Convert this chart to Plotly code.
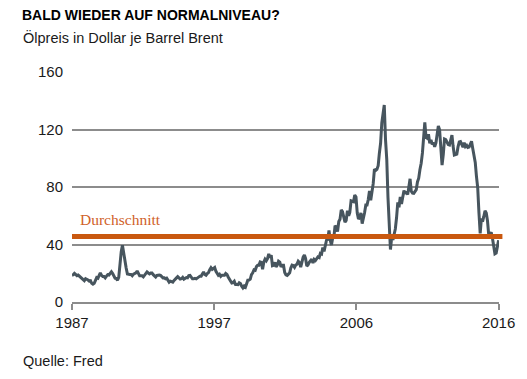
import pandas as pd
import plotly.graph_objects as go

# Brent oil price, monthly (USD per barrel)
start_month = "1987-05"
prices = [
    # 1987 (May-Dec)
    18.6, 18.9, 19.9, 18.9, 18.3, 18.7, 18.0, 17.0,
    # 1988
    16.0, 15.6, 14.8, 16.2, 16.0, 15.3, 14.6, 14.8, 13.0, 12.4, 13.0, 15.1,
    # 1989
    17.0, 16.6, 18.5, 20.3, 18.5, 17.8, 17.8, 16.8, 18.0, 19.0, 18.8, 19.9,
    # 1990
    21.0, 19.8, 18.4, 16.6, 16.4, 15.1, 17.2, 27.2, 35.0, 39.5, 32.8, 27.6,
    # 1991
    23.6, 19.5, 19.1, 19.2, 19.2, 18.3, 19.4, 19.8, 20.3, 21.6, 20.2, 18.2,
    # 1992
    18.2, 18.2, 17.5, 18.8, 19.6, 20.9, 20.2, 19.6, 20.2, 20.2, 19.0, 18.2,
    # 1993
    17.4, 18.5, 18.8, 18.7, 18.5, 17.7, 16.8, 16.9, 16.2, 16.6, 15.3, 13.8,
    # 1994
    14.5, 14.0, 13.8, 15.0, 16.2, 16.8, 17.7, 16.9, 16.0, 16.2, 17.1, 15.9,
    # 1995
    16.6, 17.0, 16.8, 18.3, 18.5, 17.2, 16.1, 16.1, 16.4, 16.1, 16.8, 17.8,
    # 1996
    18.0, 18.0, 19.6, 20.9, 19.1, 18.6, 19.7, 20.4, 22.5, 23.9, 22.7, 23.6,
    # 1997
    24.0, 21.3, 20.4, 18.6, 19.3, 17.8, 18.6, 18.8, 18.6, 19.9, 19.2, 17.4,
    # 1998
    15.5, 14.5, 13.2, 13.5, 14.4, 12.1, 12.1, 12.0, 13.4, 12.9, 11.0, 9.8,
    # 1999
    11.1, 10.3, 12.6, 15.2, 15.3, 15.9, 19.1, 20.3, 22.4, 22.1, 24.6, 25.5,
    # 2000
    25.5, 27.8, 27.5, 22.8, 27.7, 29.8, 28.7, 30.2, 33.5, 30.9, 32.6, 25.3,
    # 2001
    25.6, 27.5, 24.5, 25.7, 28.4, 27.7, 24.5, 25.7, 25.6, 20.5, 18.9, 18.5,
    # 2002
    19.4, 20.3, 23.7, 25.7, 25.4, 24.1, 25.7, 26.3, 28.4, 27.5, 24.3, 28.3,
    # 2003
    31.2, 32.8, 30.3, 25.0, 25.8, 27.6, 28.4, 29.8, 27.1, 29.6, 28.8, 29.8,
    # 2004
    31.3, 30.9, 33.8, 33.4, 37.9, 35.2, 38.4, 43.0, 43.4, 49.8, 43.1, 39.6,
    # 2005
    44.5, 45.5, 53.1, 51.9, 49.0, 56.0, 57.6, 64.1, 62.9, 58.5, 55.5, 56.8,
    # 2006
    63.6, 59.9, 62.3, 70.4, 70.2, 69.8, 74.4, 73.1, 61.9, 57.7, 58.9, 62.0,
    # 2007
    54.5, 58.0, 62.1, 67.5, 67.5, 71.3, 77.2, 70.8, 77.1, 82.3, 92.5, 91.5,
    # 2008
    92.2, 94.8, 103.3, 110.4, 124.6, 133.5, 137.0, 113.0, 99.0, 72.8, 53.2, 36.5,
    # 2009
    44.9, 43.2, 47.0, 50.8, 58.6, 69.3, 65.8, 73.1, 68.2, 73.9, 77.5, 75.2,
    # 2010
    76.9, 74.7, 79.9, 85.7, 77.0, 75.7, 75.6, 77.1, 78.2, 83.5, 86.1, 92.0,
    # 2011
    96.5, 103.7, 114.6, 125.0, 114.5, 113.9, 116.7, 110.4, 112.8, 109.6, 110.8, 107.9,
    # 2012
    110.7, 119.3, 122.5, 119.8, 110.3, 95.2, 102.6, 113.4, 113.0, 111.5, 109.5, 109.2,
    # 2013
    112.3, 116.1, 108.5, 102.3, 102.6, 102.9, 107.9, 111.3, 111.6, 109.1, 107.8, 110.8,
    # 2014
    108.1, 108.9, 107.5, 107.8, 109.5, 111.8, 106.8, 101.6, 97.1, 87.4, 79.4, 62.3,
    # 2015
    47.8, 58.1, 55.9, 59.5, 63.5, 61.9, 56.5, 46.5, 47.6, 48.4, 44.3, 38.0,
    # 2016 (Jan-Apr)
    33.5, 34.0, 39.0, 43.0,
]
average_price = 45.5
y_ticks = [0, 40, 80, 120, 160]
x_tick_labels = ["1987", "1997", "2006", "2016"]

title_text = "BALD WIEDER AUF NORMALNIVEAU?"
subtitle_text = "Ölpreis in Dollar je Barrel Brent"
avg_label = "Durchschnitt"
source_text = "Quelle: Fred"

dates = pd.date_range(start_month, periods=len(prices), freq="MS")
t0, t1 = dates[0], dates[-1]
x_tick_vals = [t0 + (t1 - t0) * k / 3 for k in range(len(x_tick_labels))]

LINE_COLOR = "#47555e"
AVG_COLOR = "#c9580f"
GRID_COLOR = "#8c8c8c"
TEXT_COLOR = "#1a1a1a"
FONT = "Liberation Sans, Arial, sans-serif"

fig = go.Figure()
fig.add_trace(go.Scatter(
    x=dates, y=prices, mode="lines",
    line=dict(color=LINE_COLOR, width=3),
    hoverinfo="skip", showlegend=False,
))

fig.add_shape(
    type="line", xref="paper", yref="y",
    x0=0, x1=1.008, y0=average_price, y1=average_price,
    line=dict(color=AVG_COLOR, width=5), layer="above",
)

fig.update_layout(
    width=527, height=379,
    margin=dict(l=72, r=23, t=72, b=77),
    paper_bgcolor="white", plot_bgcolor="white",
    font=dict(family=FONT, size=14.5, color=TEXT_COLOR),
    showlegend=False,
    xaxis=dict(
        type="date",
        range=[t0, t1 + pd.Timedelta(days=10)],
        showgrid=False, zeroline=False,
        showline=True, linecolor=GRID_COLOR, linewidth=2,
        ticks="outside", ticklen=6, tickwidth=2, tickcolor=GRID_COLOR,
        tickvals=x_tick_vals, ticktext=x_tick_labels,
        tickfont=dict(size=15, color=TEXT_COLOR),
        fixedrange=True,
    ),
    yaxis=dict(
        range=[0, 160],
        tickvals=y_ticks,
        showgrid=True, gridcolor=GRID_COLOR, gridwidth=2,
        zeroline=False, showline=False, ticks="",
        ticklabelstandoff=8,
        tickfont=dict(size=15, color=TEXT_COLOR),
        fixedrange=True,
    ),
    title=dict(
        text="<b>" + title_text + "</b>",
        xref="container", yref="container",
        x=22 / 527, xanchor="left",
        y=1 - 15 / 379, yanchor="middle",
        font=dict(family=FONT, size=14, color="#000000"),
    ),
)

def py(pix):
    return (302 - pix) / 230

def px(pix):
    return (pix - 72) / 432

fig.add_annotation(
    text=subtitle_text, xref="paper", yref="paper",
    x=px(20), y=py(37), xanchor="left", yanchor="middle",
    showarrow=False, font=dict(family=FONT, size=14.5, color=TEXT_COLOR),
)
fig.add_annotation(
    text=source_text, xref="paper", yref="paper",
    x=px(20), y=py(361), xanchor="left", yanchor="middle",
    showarrow=False, font=dict(family=FONT, size=14.5, color=TEXT_COLOR),
)
fig.add_annotation(
    text=avg_label, xref="paper", yref="paper",
    x=px(78), y=py(219), xanchor="left", yanchor="middle",
    showarrow=False,
    font=dict(family="Liberation Serif, Times New Roman, serif", size=15.5, color="#d0612a"),
)

fig.write_html(
    "out.html",
    config={"displayModeBar": False},
    post_script="document.body.style.margin='0';document.body.style.padding='0';document.body.style.overflow='hidden';",
)
